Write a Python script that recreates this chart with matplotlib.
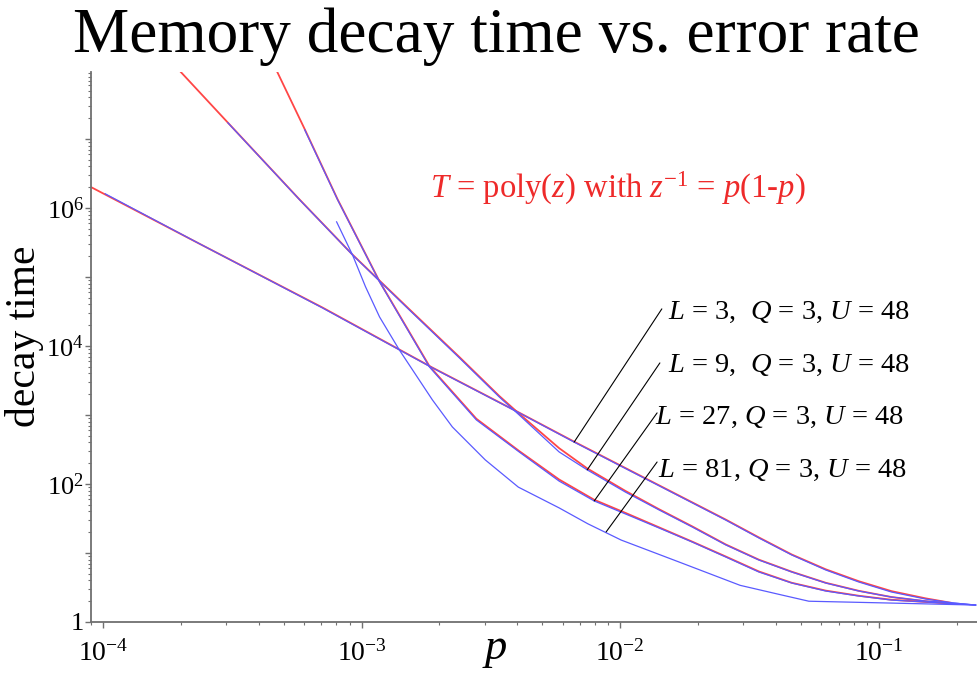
import matplotlib
matplotlib.use("Agg")
import matplotlib.pyplot as plt
from matplotlib.ticker import FixedLocator, FixedFormatter, LogLocator, NullFormatter

plt.rcParams['font.family'] = ['Liberation Serif', 'DejaVu Serif']
plt.rcParams['mathtext.fontset'] = 'custom'
plt.rcParams['mathtext.rm'] = 'Liberation Serif'
plt.rcParams['mathtext.it'] = 'Liberation Serif:italic'
plt.rcParams['mathtext.bf'] = 'Liberation Serif:bold'

# ---- simulated decay times (blue) ----
p_L3 = [1.02e-4, 2.37e-4, 7.06e-4, 1.88e-3, 4.07e-3, 6.64e-3, 1.22e-2, 2.56e-2,
        3.44e-2, 4.61e-2, 6.24e-2, 8.37e-2, 0.112, 0.152, 0.196, 0.237]
T_L3 = [1.6e6, 3.0e5, 3.55e4, 4.8e3, 1.07e3, 404, 125, 30, 16.5, 9.35, 5.67,
        3.8, 2.72, 2.15, 1.88, 1.76]

p_L9 = [3.04e-4, 5.76e-4, 9.23e-4, 1.53e-3, 2.39e-3, 3.41e-3, 4.07e-3, 5.81e-3,
        7.46e-3, 1.05e-2, 1.415e-2, 1.90e-2, 2.56e-2, 3.44e-2, 4.61e-2, 6.24e-2,
        8.37e-2, 0.112, 0.152, 0.196, 0.237]
T_L9 = [1.71e7, 1.31e6, 2.08e5, 3.32e4, 6.7e3, 1.82e3, 1.0e3, 291, 160, 76, 42,
        23.8, 13.1, 7.9, 5.3, 3.67, 2.81, 2.3, 2.01, 1.88, 1.76]

p_L27 = [6.03e-4, 8.08e-4, 1.174e-3, 1.83e-3, 2.78e-3, 4.07e-3, 5.81e-3, 7.94e-3,
         1.05e-2, 1.415e-2, 1.90e-2, 2.56e-2, 3.44e-2, 4.61e-2, 6.24e-2, 8.37e-2,
         0.112, 0.152, 0.237]
T_L27 = [1.35e7, 1.31e6, 8.47e4, 4.96e3, 847, 291, 110, 56.7, 36.7, 23, 14.4,
         8.75, 5.3, 3.67, 2.81, 2.38, 2.08, 1.95, 1.76]

p_L81 = [8.01e-4, 9.23e-4, 1.036e-3, 1.174e-3, 1.40e-3, 1.88e-3, 2.245e-3, 3.01e-3,
         4.04e-3, 5.81e-3, 7.5e-3, 1.009e-2, 1.69e-2, 2.91e-2, 4.22e-2, 5.37e-2,
         0.112, 0.237]
T_L81 = [6.27e5, 2.08e5, 7.2e4, 2.63e4, 8.75e3, 1.65e3, 670, 223, 90, 45, 26.5,
         15.4, 7.4, 3.4, 2.46, 2.0, 1.88, 1.76]

# ---- polynomial fits T = poly(z) (red) ----
pf_L3 = [8.99e-5, 2.37e-4, 7.06e-4, 1.88e-3, 4.07e-3, 6.64e-3, 1.22e-2, 2.56e-2,
         3.44e-2, 4.61e-2, 6.24e-2, 8.37e-2, 0.112, 0.152, 0.19]
Tf_L3 = [2.0e6, 3.0e5, 3.6e4, 4.85e3, 1.08e3, 410, 127, 30.5, 16.8, 9.5, 5.8,
         3.9, 2.8, 2.2, 1.9]

pf_L9 = [1.95e-4, 3.04e-4, 5.76e-4, 9.23e-4, 1.53e-3, 2.39e-3, 3.41e-3, 4.07e-3,
         5.81e-3, 7.46e-3, 1.05e-2, 1.415e-2, 1.90e-2, 2.56e-2, 3.44e-2, 4.61e-2,
         6.24e-2, 8.37e-2, 0.112, 0.152, 0.19]
Tf_L9 = [1.03e8, 1.72e7, 1.32e6, 2.1e5, 3.4e4, 6.9e3, 1.88e3, 1.04e3, 330, 168,
         79, 43, 24.3, 13.3, 8.0, 5.35, 3.7, 2.83, 2.3, 2.0, 1.85]

pf_L27 = [4.65e-4, 6.03e-4, 8.08e-4, 1.174e-3, 1.83e-3, 2.78e-3, 4.07e-3, 5.81e-3,
          7.94e-3, 1.05e-2, 1.415e-2, 1.90e-2, 2.56e-2, 3.44e-2, 4.61e-2, 6.24e-2,
          8.37e-2, 0.112, 0.152, 0.19]
Tf_L27 = [1.05e8, 1.38e7, 1.33e6, 8.6e4, 5.1e3, 880, 300, 116, 59, 38, 23.5,
          14.6, 8.9, 5.4, 3.7, 2.85, 2.4, 2.1, 1.95, 1.86]

# ---- axis ticks ----
x_ticks = [1e-4, 1e-3, 1e-2, 1e-1]
x_tick_labels = [r'$10^{-4}$', r'$10^{-3}$', r'$10^{-2}$', r'$10^{-1}$']
y_ticks = [1, 1e1, 1e2, 1e3, 1e4, 1e5, 1e6, 1e7]
y_tick_labels = ['1', '', r'$10^{2}$', '', r'$10^{4}$', '', r'$10^{6}$', '']

# ---- curve labels: text, pointer start (p, T), pointer end on curve (p, T) ----
labels = [r'$L$ = 3,  $Q$ = 3, $U$ = 48',
          r'$L$ = 9,  $Q$ = 3, $U$ = 48',
          r'$L$ = 27, $Q$ = 3, $U$ = 48',
          r'$L$ = 81, $Q$ = 3, $U$ = 48']
pointer_start = [(1.45e-2, 3.44e4), (1.425e-2, 5.67e3), (1.39e-2, 1.07e3), (1.39e-2, 208)]
pointer_end = [(6.64e-3, 404), (7.46e-3, 160), (7.94e-3, 56.7), (8.83e-3, 20.2)]
label_pos = [(668, 319), (668, 372), (655, 424), (658, 477)]  # pixel anchors

RED = '#ff4646'
BLUE = '#5a5aff'
W, H = 977, 694

fig = plt.figure(figsize=(W / 100, H / 100), dpi=100)
ax = fig.add_axes([91 / W, 1 - 622 / H, 886 / W, 550 / H])
ax.set_xscale('log')
ax.set_yscale('log')

for pf, tf in [(pf_L3, Tf_L3), (pf_L9, Tf_L9), (pf_L27, Tf_L27)]:
    ax.plot(pf, tf, color=RED, lw=1.3, solid_joinstyle='round')
for pb, tb in [(p_L3, T_L3), (p_L9, T_L9), (p_L27, T_L27), (p_L81, T_L81)]:
    ax.plot(pb, tb, color=BLUE, lw=0.9, solid_joinstyle='round')

ax.set_xlim(8.99e-5, 0.24)
ax.set_ylim(1, 9.3e7)

for s in ['top', 'right']:
    ax.spines[s].set_visible(False)
for s in ['left', 'bottom']:
    ax.spines[s].set_color('#707070')
    ax.spines[s].set_linewidth(1.3)

ax.xaxis.set_major_locator(FixedLocator(x_ticks))
ax.xaxis.set_major_formatter(FixedFormatter(x_tick_labels))
ax.xaxis.set_minor_locator(LogLocator(base=10, subs=range(2, 10), numticks=20))
ax.xaxis.set_minor_formatter(NullFormatter())
ax.yaxis.set_major_locator(FixedLocator(y_ticks))
ax.yaxis.set_major_formatter(FixedFormatter(y_tick_labels))
ax.yaxis.set_minor_locator(LogLocator(base=10, subs=range(2, 10), numticks=20))
ax.yaxis.set_minor_formatter(NullFormatter())
ax.tick_params(which='major', direction='out', length=4, width=1, color='#707070',
               labelsize=20)
ax.tick_params(which='minor', direction='out', length=2, width=0.8, color='#707070')
ax.tick_params(axis='x', which='major', pad=9)
ax.tick_params(axis='y', which='major', pad=1, labelsize=19)

for (ps, ts), (pe, te) in zip(pointer_start, pointer_end):
    ax.annotate('', xy=(pe, te), xytext=(ps, ts),
                arrowprops=dict(arrowstyle='-', color='black', lw=0.8,
                                shrinkA=0, shrinkB=0))
for txt, (px, py) in zip(labels, label_pos):
    fig.text(px / W, 1 - py / H, txt, fontsize=20.5, ha='left', va='baseline')

fig.text(430 / W, 1 - 198 / H, r'$T$ = poly($z$) with $z^{-1}$ = $p$(1-$p$)',
         color='#ee2a2a', fontsize=23.5, ha='left', va='baseline')

fig.text(496 / W, 1 - 52 / H, 'Memory decay time vs. error rate',
         fontsize=45.5, ha='center', va='baseline')
fig.text(25 / W, 1 - 336 / H, 'decay time', fontsize=30, rotation=90,
         ha='center', va='center')
fig.text(495 / W, 1 - 650 / H, r'$p$', fontsize=32, ha='center', va='center')

fig.savefig('out.png', dpi=100)
